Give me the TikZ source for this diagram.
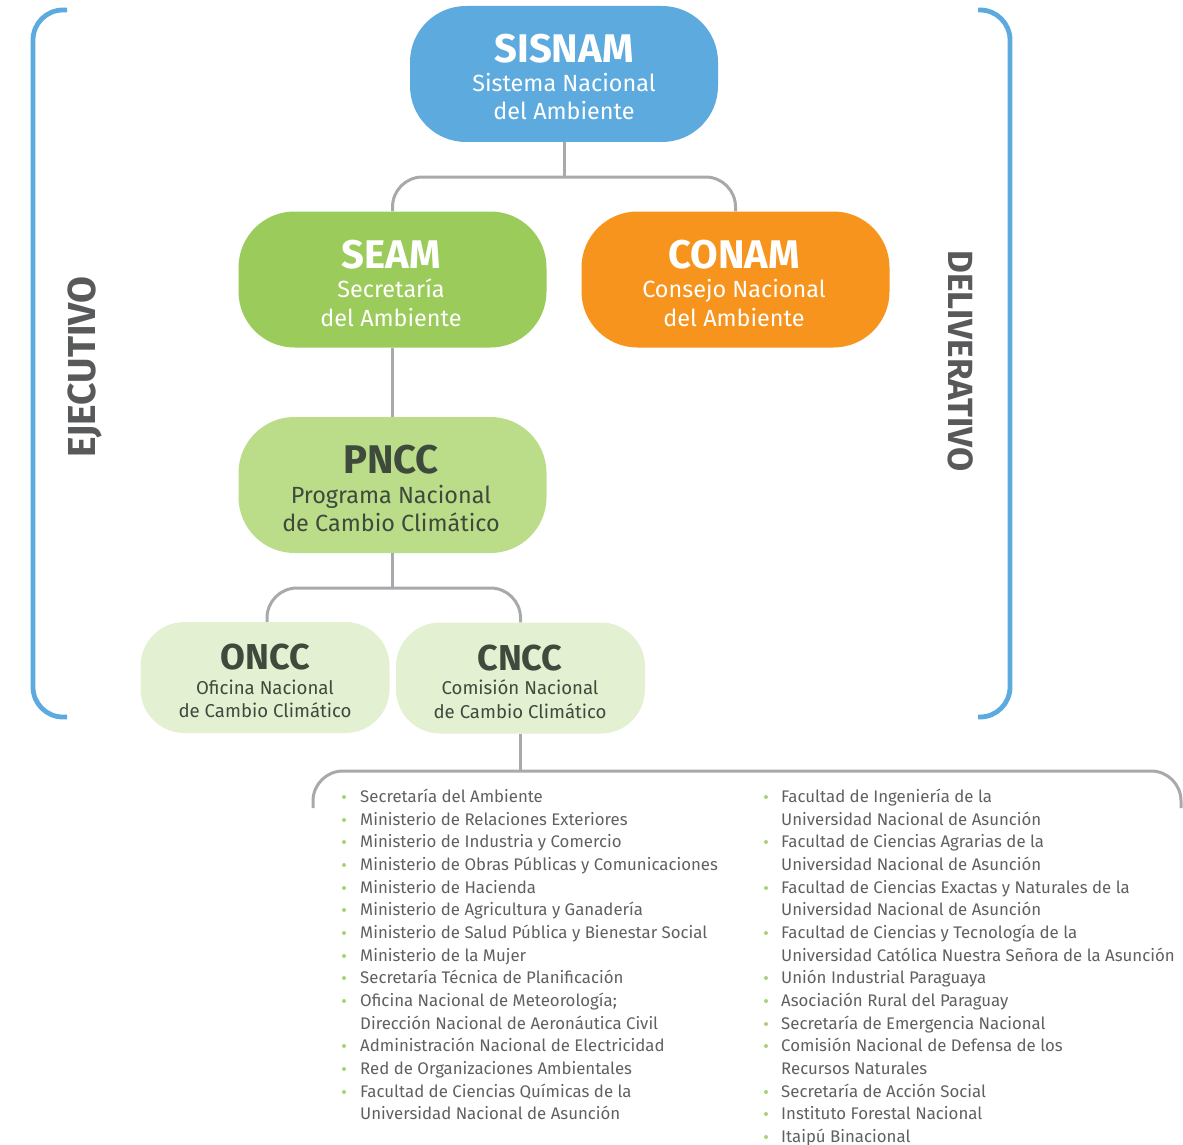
\documentclass[tikz,border=0pt]{standalone}
\usepackage{fontspec}
\setmainfont{Fira Sans}
\definecolor{cblue}{HTML}{5DAADF}
\definecolor{cseam}{HTML}{9BCB5A}
\definecolor{cconam}{HTML}{F7941D}
\definecolor{cpncc}{HTML}{BBDC89}
\definecolor{cpale}{HTML}{E4F0D2}
\definecolor{cdark}{HTML}{3E4A3C}
\definecolor{cline}{HTML}{A7A9AC}
\definecolor{clist}{HTML}{5F6062}
\definecolor{clabel}{HTML}{58595B}
\definecolor{cbullet}{HTML}{A9D175}
\begin{document}
\begin{tikzpicture}[x=1pt,y=-1pt,
  box/.style={rounded corners=56pt, minimum width=308pt, minimum height=136pt, inner sep=0pt, draw=none},
  smallbox/.style={rounded corners=44pt, minimum width=249pt, minimum height=111pt, inner sep=0pt, draw=none},
  bigtitle/.style={font=\fontsize{40}{40}\selectfont\bfseries, anchor=base, inner sep=0pt},
  bigsub/.style={font=\fontsize{23.4}{23.4}\selectfont, anchor=base, inner sep=0pt},
  smalltitle/.style={font=\fontsize{36}{36}\selectfont\bfseries, anchor=base, inner sep=0pt, text=cdark},
  smallsub/.style={font=\fontsize{18.6}{18.6}\selectfont, anchor=base, inner sep=0pt, text=cdark},
  conn/.style={draw=cline, line width=3pt, rounded corners=30pt},
  bracket/.style={draw=cblue, line width=4.8pt, rounded corners=30pt},
  side/.style={font=\bfseries, text=clabel, inner sep=0pt},
  item/.style={font=\fontsize{16.8}{16.8}\selectfont, text=clist, anchor=base west, inner sep=0pt}
]
\useasboundingbox (0,0) rectangle (1183,1145);

% brackets
\coordinate (lb1) at (67,10);
\coordinate (lb2) at (33,717);
\coordinate (lb3) at (67,717);
\draw[bracket] (lb1) -| (lb2) -- (lb3);
\coordinate (rb1) at (978,10);
\coordinate (rb2) at (1010,717);
\coordinate (rb3) at (978,717);
\draw[bracket] (rb1) -| (rb2) -- (rb3);

\node[side, rotate=90, font=\fontsize{39}{39}\selectfont\bfseries] (ejec) at (85,367) {EJECUTIVO};
\node[side, rotate=-90, font=\fontsize{35}{35}\selectfont\bfseries] (deli) at (961,361) {DELIVERATIVO};

% boxes
\node[box, fill=cblue] (sisnam) at (564,74) {};
\node[box, fill=cseam] (seam) at (392.5,279.5) {};
\node[box, fill=cconam] (conam) at (735.5,279.5) {};
\node[box, fill=cpncc] (pncc) at (392.5,485) {};
\node[smallbox, fill=cpale] (oncc) at (265,677.5) {};
\node[smallbox, fill=cpale] (cncc) at (520.5,678) {};

% texts
\node[bigtitle, text=white] (t1) at (564,63) {SISNAM};
\node[bigsub, text=white] (s1a) at (564,92) {Sistema Nacional};
\node[bigsub, text=white] (s1b) at (564,120) {del Ambiente};

\node[bigtitle, text=white] (t2) at (391,268) {SEAM};
\node[bigsub, text=white] (s2a) at (391,297) {Secretaría};
\node[bigsub, text=white] (s2b) at (391,326) {del Ambiente};

\node[bigtitle, text=white] (t3) at (734,268) {CONAM};
\node[bigsub, text=white] (s3a) at (734,297) {Consejo Nacional};
\node[bigsub, text=white] (s3b) at (734,326) {del Ambiente};

\node[bigtitle, text=cdark] (t4) at (391,473) {PNCC};
\node[bigsub, text=cdark] (s4a) at (391,503) {Programa Nacional};
\node[bigsub, text=cdark] (s4b) at (391,531) {de Cambio Climático};

\node[smalltitle] (t5) at (265,669) {ONCC};
\node[smallsub] (s5a) at (265,694) {Oficina Nacional};
\node[smallsub] (s5b) at (265,717) {de Cambio Climático};

\node[smalltitle] (t6) at (520,670) {CNCC};
\node[smallsub] (s6a) at (520,694) {Comisión Nacional};
\node[smallsub] (s6b) at (520,718) {de Cambio Climático};

% connectors
\coordinate (j1) at (564,177);
\draw[conn] (sisnam.south) -- (j1);
\draw[conn] (seam.north) |- (j1) -| (conam.north);
\draw[conn] (seam.south) -- (pncc.north);
\coordinate (j2) at (392.5,588);
\draw[conn] (pncc.south) -- (j2);
\draw[conn] (oncc.north -| 267,0) |- (j2) -| (cncc.north);
\coordinate (j3) at (520.5,771);
\coordinate (e1) at (313,808);
\coordinate (e2) at (1181,808);
\draw[conn] (cncc.south) -- (j3);
\draw[conn] (e1) |- (j3) -| (e2);

% left list
\foreach \n/\y/\b/\t in {
  1/802/1/Secretaría del Ambiente,
  2/825/1/Ministerio de Relaciones Exteriores,
  3/847/1/Ministerio de Industria y Comercio,
  4/870/1/Ministerio de Obras Públicas y Comunicaciones,
  5/893/1/Ministerio de Hacienda,
  6/915/1/Ministerio de Agricultura y Ganadería,
  7/938/1/Ministerio de Salud Pública y Bienestar Social,
  8/961/1/Ministerio de la Mujer,
  9/983/1/Secretaría Técnica de Planificación,
  10/1006/1/Oficina Nacional de Meteorología;,
  11/1029/0/Dirección Nacional de Aeronáutica Civil,
  12/1051/1/Administración Nacional de Electricidad,
  13/1074/1/Red de Organizaciones Ambientales,
  14/1097/1/Facultad de Ciencias Químicas de la,
  15/1119/0/Universidad Nacional de Asunción}{
  \node[item] (l\n) at (360,\y) {\t};
  \ifnum\b=1 \fill[cbullet] (344,\y-5) circle (2pt); \fi
}
% right list
\foreach \n/\y/\b/\t in {
  1/802/1/Facultad de Ingeniería de la,
  2/825/0/Universidad Nacional de Asunción,
  3/847/1/Facultad de Ciencias Agrarias de la,
  4/870/0/Universidad Nacional de Asunción,
  5/893/1/Facultad de Ciencias Exactas y Naturales de la,
  6/915/0/Universidad Nacional de Asunción,
  7/938/1/Facultad de Ciencias y Tecnología de la,
  8/961/0/Universidad Católica Nuestra Señora de la Asunción,
  9/983/1/Unión Industrial Paraguaya,
  10/1006/1/Asociación Rural del Paraguay,
  11/1029/1/Secretaría de Emergencia Nacional,
  12/1051/1/Comisión Nacional de Defensa de los,
  13/1074/0/Recursos Naturales,
  14/1097/1/Secretaría de Acción Social,
  15/1119/1/Instituto Forestal Nacional,
  16/1142/1/Itaipú Binacional}{
  \node[item] (r\n) at (781,\y) {\t};
  \ifnum\b=1 \fill[cbullet] (766,\y-5) circle (2pt); \fi
}
\end{tikzpicture}
\end{document}
